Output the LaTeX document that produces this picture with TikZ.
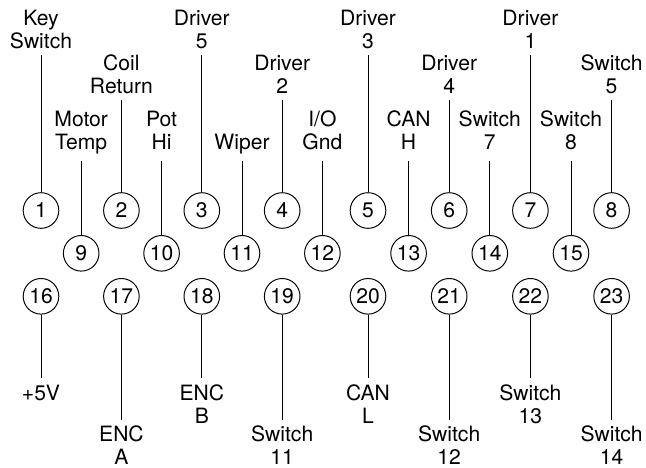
\documentclass[tikz,border=0pt]{standalone}
\usepackage{fontspec}
\setmainfont{TeX Gyre Heros}
\usepackage{tikz}
\tikzstyle{pin}=[circle,draw=black,line width=0.7pt,inner sep=0pt,
  minimum size=0.89cm,font=\fontsize{15}{16.1}\selectfont]
\tikzstyle{lbl}=[align=center,anchor=base,inner sep=0pt,
  font=\fontsize{15}{16.1}\selectfont]
\tikzstyle{none}=[]
\begin{document}
\begin{tikzpicture}[x=0.025cm, y=-0.025cm, line width=0.7pt]
    \useasboundingbox (0, 0) rectangle (646, 468);
    % top row
    \node [style=pin] (1) at (41, 210.5) {1};
    \node [style=pin] (2) at (121.4, 210.5) {2};
    \node [style=pin] (3) at (201.8, 210.5) {3};
    \node [style=pin] (4) at (282.2, 210.5) {4};
    \node [style=pin] (5) at (368, 210.5) {5};
    \node [style=pin] (6) at (449.2, 210.5) {6};
    \node [style=pin] (7) at (530.4, 210.5) {7};
    \node [style=pin] (8) at (611.6, 210.5) {8};
    % middle row
    \node [style=pin] (9) at (81.2, 253.3) {9};
    \node [style=pin] (10) at (161.6, 253.3) {10};
    \node [style=pin] (11) at (242, 253.3) {11};
    \node [style=pin] (12) at (322.4, 253.3) {12};
    \node [style=pin] (13) at (408.6, 253.3) {13};
    \node [style=pin] (14) at (489.8, 253.3) {14};
    \node [style=pin] (15) at (571, 253.3) {15};
    % bottom row
    \node [style=pin] (16) at (41, 296.3) {16};
    \node [style=pin] (17) at (121.4, 296.3) {17};
    \node [style=pin] (18) at (201.8, 296.3) {18};
    \node [style=pin] (19) at (282.2, 296.3) {19};
    \node [style=pin] (20) at (368, 296.3) {20};
    \node [style=pin] (21) at (449.2, 296.3) {21};
    \node [style=pin] (22) at (530.4, 296.3) {22};
    \node [style=pin] (23) at (611.6, 296.3) {23};
    % wire ends
    \node [style=none] (24) at (41, 55) {};
    \node [style=none] (25) at (121.4, 100) {};
    \node [style=none] (26) at (201.8, 55) {};
    \node [style=none] (27) at (282.2, 100) {};
    \node [style=none] (28) at (368, 55) {};
    \node [style=none] (29) at (449.2, 100) {};
    \node [style=none] (30) at (530.4, 55) {};
    \node [style=none] (31) at (611.6, 100) {};
    \node [style=none] (32) at (81.2, 161) {};
    \node [style=none] (33) at (161.6, 161) {};
    \node [style=none] (34) at (242, 161) {};
    \node [style=none] (35) at (322.4, 161) {};
    \node [style=none] (36) at (408.6, 161) {};
    \node [style=none] (37) at (489.8, 161) {};
    \node [style=none] (38) at (571, 161) {};
    \node [style=none] (39) at (41, 378) {};
    \node [style=none] (40) at (121.4, 420) {};
    \node [style=none] (41) at (201.8, 378) {};
    \node [style=none] (42) at (282.2, 420) {};
    \node [style=none] (43) at (368, 378) {};
    \node [style=none] (44) at (449.2, 420) {};
    \node [style=none] (45) at (530.4, 378) {};
    \node [style=none] (46) at (611.6, 420) {};
    % signal names (base = last line)
    \node [style=lbl] (47) at (41, 48) {Key\\Switch};
    \node [style=lbl] (48) at (121.4, 93) {Coil\\Return};
    \node [style=lbl] (49) at (201.8, 48) {Driver\\5};
    \node [style=lbl] (50) at (282.2, 93) {Driver\\2};
    \node [style=lbl] (51) at (368, 48) {Driver\\3};
    \node [style=lbl] (52) at (449.2, 93) {Driver\\4};
    \node [style=lbl] (53) at (530.4, 48) {Driver\\1};
    \node [style=lbl] (54) at (611.6, 93) {Switch\\5};
    \node [style=lbl] (55) at (81.2, 149) {Motor\\Temp};
    \node [style=lbl] (56) at (161.6, 149) {Pot\\Hi};
    \node [style=lbl] (57) at (242, 149) {Wiper};
    \node [style=lbl] (58) at (322.4, 149) {I/O\\Gnd};
    \node [style=lbl] (59) at (408.6, 149) {CAN\\H};
    \node [style=lbl] (60) at (489.8, 149) {Switch\\7};
    \node [style=lbl] (61) at (571, 149) {Switch\\8};
    \node [style=lbl] (62) at (41, 400) {+5V};
    \node [style=lbl] (63) at (121.4, 464) {ENC\\A};
    \node [style=lbl] (64) at (201.8, 423) {ENC\\B};
    \node [style=lbl] (65) at (282.2, 464) {Switch\\11};
    \node [style=lbl] (66) at (368, 423) {CAN\\L};
    \node [style=lbl] (67) at (449.2, 464) {Switch\\12};
    \node [style=lbl] (68) at (530.4, 423) {Switch\\13};
    \node [style=lbl] (69) at (611.6, 464) {Switch\\14};
    % wires
    \draw (1) to (24.center);
    \draw (2) to (25.center);
    \draw (3) to (26.center);
    \draw (4) to (27.center);
    \draw (5) to (28.center);
    \draw (6) to (29.center);
    \draw (7) to (30.center);
    \draw (8) to (31.center);
    \draw (9) to (32.center);
    \draw (10) to (33.center);
    \draw (11) to (34.center);
    \draw (12) to (35.center);
    \draw (13) to (36.center);
    \draw (14) to (37.center);
    \draw (15) to (38.center);
    \draw (16) to (39.center);
    \draw (17) to (40.center);
    \draw (18) to (41.center);
    \draw (19) to (42.center);
    \draw (20) to (43.center);
    \draw (21) to (44.center);
    \draw (22) to (45.center);
    \draw (23) to (46.center);
\end{tikzpicture}
\end{document}
